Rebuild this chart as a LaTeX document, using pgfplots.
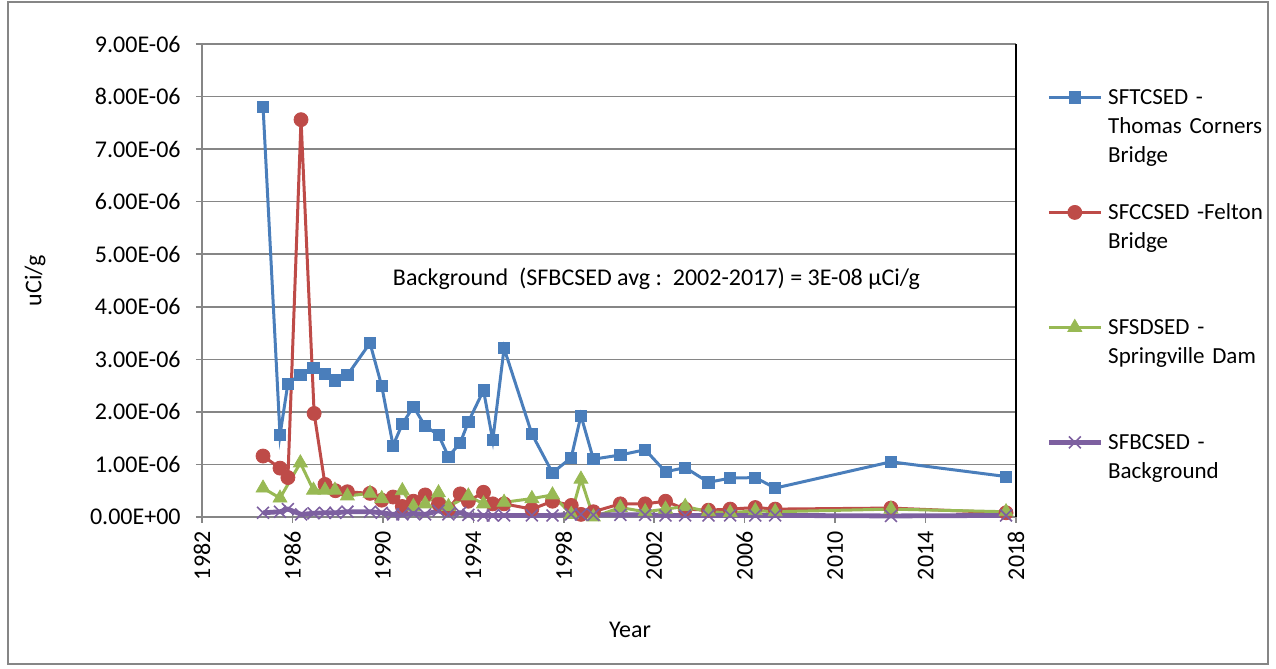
\documentclass[border=0pt]{standalone}
\usepackage{pgfplots}
\usepackage{pgfplotstable}
\pgfplotsset{compat=1.18}
\usepackage{fontspec}
\setmainfont{Carlito}
\definecolor{sblue}{HTML}{4A7EBB}
\definecolor{sred}{HTML}{BE4B48}
\definecolor{sgreen}{HTML}{98B954}
\definecolor{spurple}{HTML}{7D60A0}
\definecolor{gridgray}{HTML}{868686}

\pgfplotstableread{
year val
1984.70 7.81e-6
1985.45 1.56e-6
1985.80 2.54e-6
1986.35 2.71e-6
1986.93 2.83e-6
1987.44 2.73e-6
1987.88 2.60e-6
1988.43 2.70e-6
1989.43 3.31e-6
1989.95 2.49e-6
1990.45 1.36e-6
1990.86 1.77e-6
1991.35 2.10e-6
1991.87 1.73e-6
1992.46 1.56e-6
1992.90 1.15e-6
1993.42 1.41e-6
1993.78 1.81e-6
1994.45 2.41e-6
1994.86 1.46e-6
1995.36 3.21e-6
1996.59 1.58e-6
1997.50 0.84e-6
1998.33 1.13e-6
1998.76 1.93e-6
1999.31 1.10e-6
2000.50 1.18e-6
2001.60 1.28e-6
2002.50 0.86e-6
2003.37 0.94e-6
2004.40 0.66e-6
2005.36 0.74e-6
2006.47 0.75e-6
2007.35 0.55e-6
2012.47 1.05e-6
2017.56 0.77e-6
}\tcsed

\pgfplotstableread{
year val
1984.70 1.16e-6
1985.45 0.93e-6
1985.80 0.75e-6
1986.38 7.56e-6
1986.96 1.97e-6
1987.44 0.62e-6
1987.90 0.50e-6
1988.43 0.48e-6
1989.43 0.45e-6
1989.95 0.32e-6
1990.45 0.38e-6
1990.86 0.20e-6
1991.35 0.30e-6
1991.87 0.42e-6
1992.46 0.25e-6
1992.90 0.15e-6
1993.42 0.44e-6
1993.78 0.30e-6
1994.45 0.47e-6
1994.86 0.25e-6
1995.36 0.25e-6
1996.59 0.15e-6
1997.50 0.30e-6
1998.33 0.22e-6
1998.76 0.05e-6
1999.31 0.10e-6
2000.50 0.25e-6
2001.60 0.25e-6
2002.50 0.30e-6
2003.37 0.15e-6
2004.40 0.13e-6
2005.36 0.15e-6
2006.47 0.18e-6
2007.35 0.15e-6
2012.47 0.17e-6
2017.56 0.08e-6
}\ccsed

\pgfplotstableread{
year val
1984.70 0.55e-6
1985.45 0.36e-6
1986.35 1.03e-6
1986.93 0.51e-6
1987.44 0.51e-6
1987.88 0.51e-6
1988.43 0.40e-6
1989.43 0.45e-6
1989.95 0.35e-6
1990.86 0.50e-6
1991.35 0.20e-6
1991.87 0.25e-6
1992.46 0.46e-6
1992.90 0.20e-6
1993.78 0.40e-6
1994.45 0.25e-6
1995.36 0.28e-6
1996.59 0.35e-6
1997.50 0.42e-6
1998.33 0.05e-6
1998.76 0.72e-6
1999.31 0.00e-6
2000.50 0.18e-6
2001.60 0.10e-6
2002.50 0.15e-6
2003.37 0.20e-6
2004.40 0.10e-6
2005.36 0.08e-6
2006.47 0.12e-6
2007.35 0.10e-6
2012.47 0.15e-6
2017.56 0.10e-6
}\sdsed

\pgfplotstableread{
year val
1984.70 0.08e-6
1985.45 0.10e-6
1985.80 0.15e-6
1986.38 0.05e-6
1986.93 0.07e-6
1987.44 0.08e-6
1987.90 0.08e-6
1988.43 0.10e-6
1989.43 0.10e-6
1989.95 0.08e-6
1990.45 0.05e-6
1990.86 0.05e-6
1991.35 0.07e-6
1991.87 0.05e-6
1992.46 0.12e-6
1992.90 0.05e-6
1993.42 0.08e-6
1993.78 0.04e-6
1994.45 0.03e-6
1994.86 0.03e-6
1995.36 0.03e-6
1996.59 0.03e-6
1997.50 0.03e-6
1998.33 0.05e-6
1998.76 0.05e-6
1999.31 0.04e-6
2000.50 0.04e-6
2001.60 0.04e-6
2002.50 0.03e-6
2003.37 0.03e-6
2004.40 0.03e-6
2005.36 0.03e-6
2006.47 0.03e-6
2007.35 0.03e-6
2012.47 0.02e-6
2017.56 0.03e-6
}\bcsed

\begin{document}
\begin{tikzpicture}
\fontsize{12}{14.5}\selectfont
\path[use as bounding box] (-101pt,-76pt) rectangle (537pt,258.5pt);
\draw[gridgray, line width=0.6pt] (-97pt,-73.5pt) rectangle (533pt,257.5pt);
\begin{axis}[
  at={(0pt,0pt)}, anchor=south west,
  scale only axis, width=407pt, height=236.5pt,
  xmin=1982, xmax=2018, ymin=0, ymax=9e-6,
  xtick={1982,1986,1990,1994,1998,2002,2006,2010,2014,2018},
  xticklabels={1982,1986,1990,1994,1998,2002,2006,2010,2014,2018},
  ytick={0,1e-6,2e-6,3e-6,4e-6,5e-6,6e-6,7e-6,8e-6,9e-6},
  yticklabels={0.00E+00,1.00E-06,2.00E-06,3.00E-06,4.00E-06,5.00E-06,6.00E-06,7.00E-06,8.00E-06,9.00E-06},
  scaled y ticks=false,
  axis x line*=bottom, axis y line*=left,
  axis line style={gridgray, line width=0.8pt},
  tick style={gridgray, line width=0.8pt},
  tick align=center, major tick length=6pt,
  ymajorgrids, major grid style={gridgray, line width=0.8pt},
  tick label style={font=\fontsize{12}{14.5}\selectfont},
  xticklabel style={rotate=90, anchor=east},
  yticklabel style={anchor=east, xshift=-3.5pt},
  xlabel={Year}, ylabel={uCi/g},
  every axis x label/.style={at={(axis description cs:0,0)}, xshift=214pt, yshift=-56.5pt, anchor=center, font=\fontsize{12}{14.5}\selectfont},
  every axis y label/.style={at={(axis description cs:0,0.5)}, xshift=-83.5pt, rotate=90, anchor=center, font=\fontsize{12}{14.5}\selectfont},
  legend style={at={(axis description cs:1,1)}, anchor=north west, xshift=15pt, yshift=-1.25pt,
    draw=none, fill=none, inner sep=0pt, row sep=0pt, column sep=2.5pt,
    font=\fontsize{11.5}{14.5}\selectfont,
    nodes={text width=84pt, align=left, text height=28.75pt, text depth=28.75pt, inner sep=0pt}},
  legend cell align=left,
  legend image code/.code={\draw[mark repeat=2,mark phase=2] plot coordinates {(0pt,3.5pt) (13pt,3.5pt) (26pt,3.5pt)};},
  clip=false,
]
\addplot[sblue, line width=1.5pt, mark=square*, mark size=2.8pt, mark options={fill=sblue, line width=0.4pt}] table[x=year,y=val] {\tcsed};
\addlegendentry{SFTCSED -\\Thomas Corners\\Bridge}
\addplot[sred, line width=1.5pt, mark=*, mark size=3.5pt, mark options={fill=sred, line width=0.4pt}] table[x=year,y=val] {\ccsed};
\addlegendentry{SFCCSED -Felton\\Bridge}
\addplot[sgreen, line width=1.5pt, mark=triangle*, mark size=4pt, mark options={fill=sgreen, line width=0.4pt}] table[x=year,y=val] {\sdsed};
\addlegendentry{SFSDSED -\\Springville Dam}
\addplot[spurple, line width=2.4pt, mark=x, mark size=4.2pt, mark options={line width=0.8pt}] table[x=year,y=val] {\bcsed};
\addlegendentry{SFBCSED -\\Background}
\draw[black, line width=0.8pt] (rel axis cs:1,0) -- (rel axis cs:1,1);
\node[anchor=center, font=\fontsize{12}{14.5}\selectfont] at (axis cs:2002.1,4.54e-6) {Background\ \ (SFBCSED avg :\ \ 2002-2017) = 3E-08 µCi/g};
\end{axis}
\end{tikzpicture}
\end{document}
